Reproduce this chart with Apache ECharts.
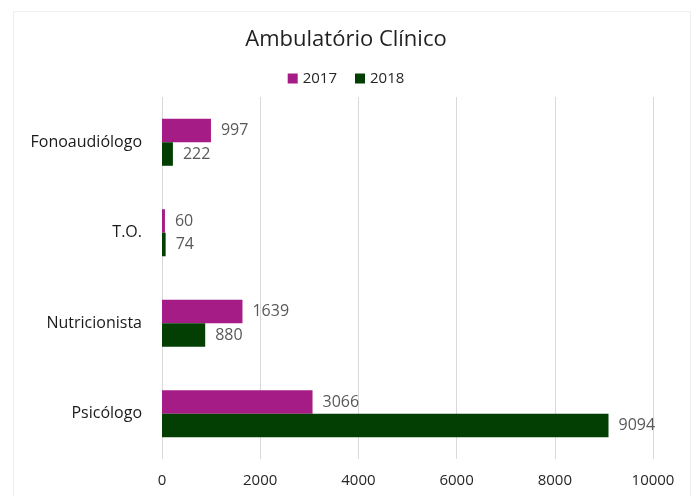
<!DOCTYPE html>
<html>
<head>
<meta charset="utf-8">
<script src="https://cdn.jsdelivr.net/npm/echarts@6/dist/echarts.min.js"></script>
<style>
  html, body { margin: 0; padding: 0; background: #fff; }
  #chart { width: 692px; height: 496px; }
</style>
</head>
<body>
<div id="chart"></div>
<script>
// Categories listed bottom-to-top (category axis on y runs upward)
const categories = ['Psicólogo', 'Nutricionista', 'T.O.', 'Fonoaudiólogo'];
const values2017 = [3066, 1639, 60, 997];
const values2018 = [9094, 880, 74, 222];
const xTicks = [0, 2000, 4000, 6000, 8000, 10000];

const FONT = '"Open Sans", "Noto Sans", sans-serif';
const chart = echarts.init(document.getElementById('chart'), null, { renderer: 'canvas' });

const labelStyle = {
  show: true,
  position: 'right',
  distance: 10,
  color: '#595959',
  fontSize: 16,
  fontFamily: FONT
};

chart.setOption({
  animation: false,
  backgroundColor: '#fff',
  graphic: [{
    type: 'rect',
    shape: { x: 13.5, y: 11.5, width: 677, height: 490 },
    style: { fill: 'none', stroke: '#efefef', lineWidth: 1 },
    silent: true
  }],
  title: {
    text: 'Ambulatório Clínico',
    left: 'center',
    top: 24,
    textStyle: { fontFamily: FONT, fontSize: 22, fontWeight: 'normal', color: '#1f1f1f' }
  },
  legend: {
    top: 66,
    left: 'center',
    itemWidth: 10,
    itemHeight: 10,
    itemGap: 18,
    icon: 'rect',
    textStyle: { fontFamily: FONT, fontSize: 15, color: '#262626', fontWeight: 500 },
    data: ['2017', '2018']
  },
  grid: { left: 162, right: 39, top: 97, bottom: 37, containLabel: false },
  xAxis: {
    type: 'value',
    min: xTicks[0],
    max: xTicks[xTicks.length - 1],
    interval: 2000,
    axisLine: { show: false },
    axisTick: { show: false },
    splitLine: { show: true, lineStyle: { color: '#d9d9d9', width: 1 } },
    axisLabel: {
      margin: 14,
      color: '#262626',
      fontSize: 15,
      fontWeight: 500,
      fontFamily: FONT,
      formatter: (v) => String(v)
    }
  },
  yAxis: {
    type: 'category',
    data: categories,
    axisLine: { show: false },
    axisTick: { show: false },
    axisLabel: { margin: 20, color: '#1a1a1a', fontSize: 16, fontWeight: 500, fontFamily: FONT }
  },
  series: [
    {
      name: '2017',
      type: 'bar',
      data: values2017,
      itemStyle: { color: '#a51c87' },
      barGap: '0%',
      barCategoryGap: '48%',
      label: labelStyle
    },
    {
      name: '2018',
      type: 'bar',
      data: values2018,
      itemStyle: { color: '#033f03' },
      barGap: '0%',
      barCategoryGap: '48%',
      label: labelStyle
    }
  ]
});
</script>
</body>
</html>
